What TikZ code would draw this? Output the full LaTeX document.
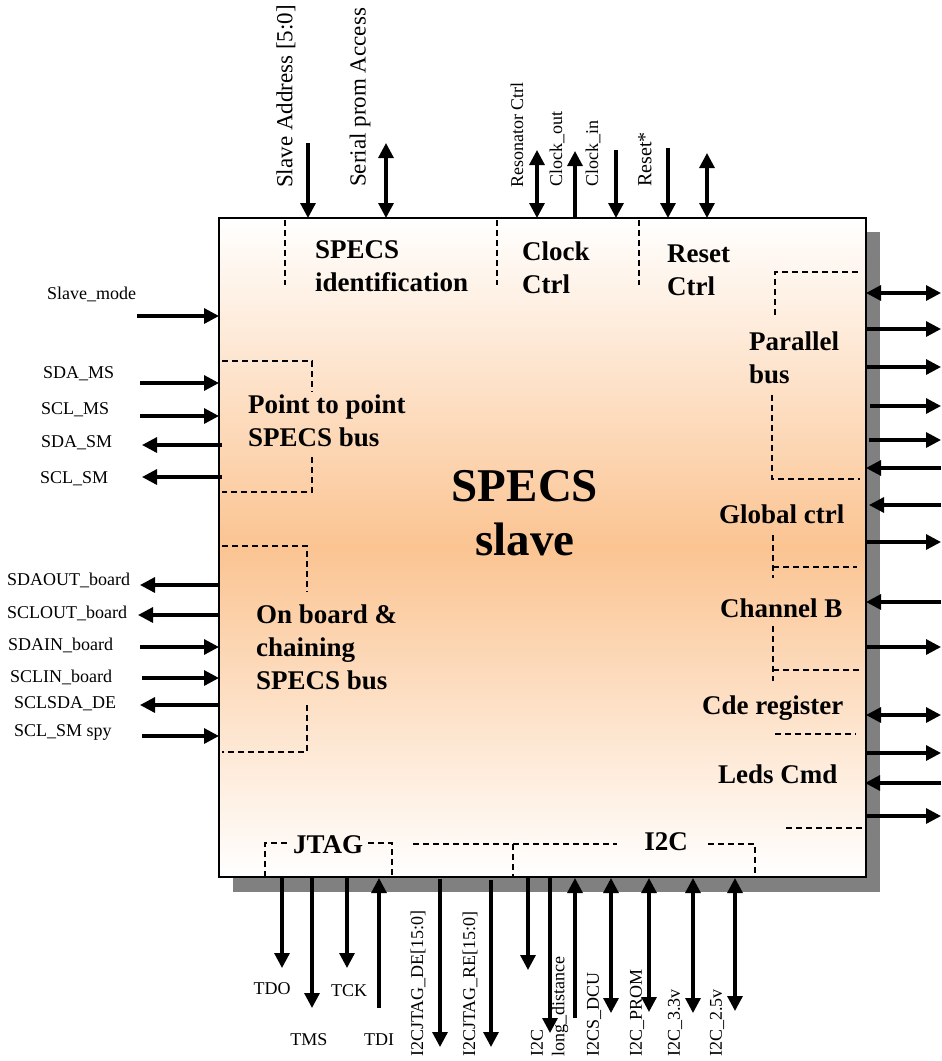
\documentclass[tikz,border=0pt]{standalone}
\usepackage{fontspec}
\setmainfont{Liberation Serif}
\usetikzlibrary{arrows.meta}
\definecolor{peach}{RGB}{251,196,146}
\definecolor{shadowgray}{RGB}{128,128,128}
\begin{document}
\begin{tikzpicture}[x=1pt,y=-1pt,
  sig/.style={line width=3.2pt},
  tin/.style={sig,-{Triangle[length=15pt,width=15pt]}},
  tboth/.style={sig,{Triangle[length=15pt,width=15pt]}-{Triangle[length=15pt,width=15pt]}},
  dsh/.style={line width=2pt,dash pattern=on 6pt off 4pt},
  lbl/.style={inner sep=0pt,font=\fontsize{18}{20}\selectfont},
  lblb/.style={inner sep=0pt,font=\fontsize{23}{26}\selectfont},
  lblr/.style={inner sep=0pt,font=\fontsize{20}{22}\selectfont},
  blk/.style={inner sep=0pt,font=\fontsize{27}{33}\selectfont\bfseries,align=left},
]
\useasboundingbox (0,0) rectangle (942,1061);

% shadow and main box
\fill[shadowgray] (233,232) rectangle (880,892);
\draw[line width=1.3pt, top color=white, bottom color=white, middle color=peach] (219,218) rectangle (866,877);

% dashed dividers
\draw[dsh] (285,220) -- (285,285);
\draw[dsh] (497,220) -- (497,285);
\draw[dsh] (639,220) -- (639,285);
\draw[dsh] (222,361) -- (312,361) -- (312,392);
\draw[dsh] (312,457) -- (312,492) -- (222,492);
\draw[dsh] (222,546) -- (307,546) -- (307,592);
\draw[dsh] (307,705) -- (307,752) -- (222,752);
\draw[dsh] (858,272) -- (775,272) -- (775,317);
\draw[dsh] (772,395) -- (772,479) -- (860,479);
\draw[dsh] (773,535) -- (773,578);
\draw[dsh] (773,567) -- (857,567);
\draw[dsh] (773,626) -- (773,681);
\draw[dsh] (773,670) -- (860,670);
\draw[dsh] (775,734) -- (856,734);
\draw[dsh] (786,828) -- (866,828);
\draw[dsh] (265,877) -- (265,843) -- (288,843);
\draw[dsh] (368,843) -- (392,843) -- (392,877);
\draw[dsh] (413,844) -- (617,844);
\draw[dsh] (513,844) -- (513,877);
\draw[dsh] (708,844) -- (755,844) -- (755,877);

% block titles
\node[blk,anchor=north west] (tid) at (315,240) {SPECS\\identification};
\node[blk,anchor=north west] (tclk) at (522,242) {Clock\\Ctrl};
\node[blk,anchor=north west] (trst) at (667,245) {Reset\\Ctrl};
\node[blk,anchor=north west] (tptp) at (248,395) {Point to point\\SPECS bus};
\node[blk,anchor=north west] (tonb) at (256,605) {On board \&\\chaining\\SPECS bus};
\node[blk,anchor=north west] (tpar) at (749,332) {Parallel\\bus};
\node[blk,anchor=base west] (tglob) at (719,523) {Global ctrl};
\node[blk,anchor=base west] (tchb) at (720,617) {Channel B};
\node[blk,anchor=base west] (tcde) at (702,714) {Cde register};
\node[blk,anchor=base west] (tled) at (718,783) {Leds Cmd};
\node[blk,anchor=base] (tjtag) at (328,853) {JTAG};
\node[blk,anchor=base] (ti2c) at (666,850) {I2C};
\node[inner sep=0pt,font=\fontsize{47}{54}\selectfont\bfseries,align=center,anchor=north] (tmain) at (525,470) {SPECS\\slave};

% top signals
\node[lblb,rotate=90,anchor=west] (lsa) at (286,188) {Slave Address [5:0]};
\node[lblb,rotate=90,anchor=west] (lsp) at (360,187) {Serial prom Access};
\node[lbl,rotate=90,anchor=west] (lrc) at (517,188) {Resonator Ctrl};
\node[lbl,rotate=90,anchor=west] (lco) at (557,187) {Clock\_out};
\node[lbl,rotate=90,anchor=west] (lci) at (593,187) {Clock\_in};
\node[lblr,rotate=90,anchor=west] (lrs) at (645,187) {Reset*};
\foreach \n/\xa/\ya/\xb/\yb/\st in {sa/308/143/308/218/tin, sp/386/143/386/218/tboth, rc/537/150/537/218/tboth, co/575/218/575/151/tin, ci/616/150/616/218/tin, rs/668/148/668/218/tin, rx/707/153/707/218/tboth}{
  \coordinate (T\n a) at (\xa,\ya);
  \coordinate (T\n b) at (\xb,\yb);
  \draw[\st] (T\n a) -- (T\n b);
}

% left signals
\node[lbl,anchor=base west] (lsm) at (47,299) {Slave\_mode};
\node[lbl,anchor=base west] (l1) at (43,378) {SDA\_MS};
\node[lbl,anchor=base west] (l2) at (41,414) {SCL\_MS};
\node[lbl,anchor=base west] (l3) at (41,447) {SDA\_SM};
\node[lbl,anchor=base west] (l4) at (40,483) {SCL\_SM};
\node[lbl,anchor=base west] (l5) at (7,585) {SDAOUT\_board};
\node[lbl,anchor=base west] (l6) at (7,618) {SCLOUT\_board};
\node[lbl,anchor=base west] (l7) at (8,650) {SDAIN\_board};
\node[lbl,anchor=base west] (l8) at (10,682) {SCLIN\_board};
\node[lbl,anchor=base west] (l9) at (14,708) {SCLSDA\_DE};
\node[lbl,anchor=base west] (l10) at (14,736) {SCL\_SM spy};
\foreach \n/\xa/\xb/\y in {sm/137/219/316, a/140/219/383, b/140/219/416, c/222/142/445, d/222/142/477, e/219/140/585, f/219/138/615, g/140/219/647, h/142/219/678, i/219/140/705, j/142/219/736}{
  \coordinate (L\n a) at (\xa,\y);
  \coordinate (L\n b) at (\xb,\y);
  \draw[tin] (L\n a) -- (L\n b);
}

% right signals
\foreach \n/\xa/\xb/\y/\st in {a/866/941/293/tboth, b/866/941/329/tin, c/866/941/367/tin, d/870/941/406/tin, e/869/941/440/tin, f/941/866/468/tin, g/941/869/505/tin, h/866/941/542/tin, i/941/866/602/tin, j/866/941/647/tin, k/866/941/715/tboth, l/866/941/753/tin, m/941/865/783/tin, n/866/941/816/tin}{
  \coordinate (R\n a) at (\xa,\y);
  \coordinate (R\n b) at (\xb,\y);
  \draw[\st] (R\n a) -- (R\n b);
}

% bottom signals
\foreach \n/\x/\ya/\yb/\st in {tdo/282/878/968/tin, tms/312/878/1008/tin, tck/347/878/968/tin, tdi/379/1008/878/tin, de/440/879/1047/tin, re/491/880/1047/tin, ic/528/878/970/tin, ld/550/878/1033/tin, dcu/575/1018/878/tin, prom/611/878/1013/tboth, v33/649/878/1012/tboth, ux/693/878/1013/tboth, v25/735/878/1011/tboth}{
  \coordinate (B\n a) at (\x,\ya);
  \coordinate (B\n b) at (\x,\yb);
  \draw[\st] (B\n a) -- (B\n b);
}
\node[lbl] (ltdo) at (272,989) {TDO};
\node[lbl] (ltms) at (309,1040) {TMS};
\node[lbl] (ltck) at (349,991) {TCK};
\node[lbl] (ltdi) at (379,1040) {TDI};
\node[lbl,rotate=90,anchor=west] (lde) at (418,1057) {I2CJTAG\_DE[15:0]};
\node[lbl,rotate=90,anchor=west] (lre) at (470,1057) {I2CJTAG\_RE[15:0]};
\node[lbl,rotate=90,anchor=west] (lic) at (537,1057) {I2C};
\node[lbl,rotate=90,anchor=west] (lld) at (560,1057) {long\_distance};
\node[lbl,rotate=90,anchor=west] (ldcu) at (594,1057) {I2CS\_DCU};
\node[lbl,rotate=90,anchor=west] (lprom) at (637,1057) {I2C\_PROM};
\node[lbl,rotate=90,anchor=west] (lv33) at (675,1057) {I2C\_3.3v};
\node[lbl,rotate=90,anchor=west] (lv25) at (717,1057) {I2C\_2.5v};
\end{tikzpicture}
\end{document}
